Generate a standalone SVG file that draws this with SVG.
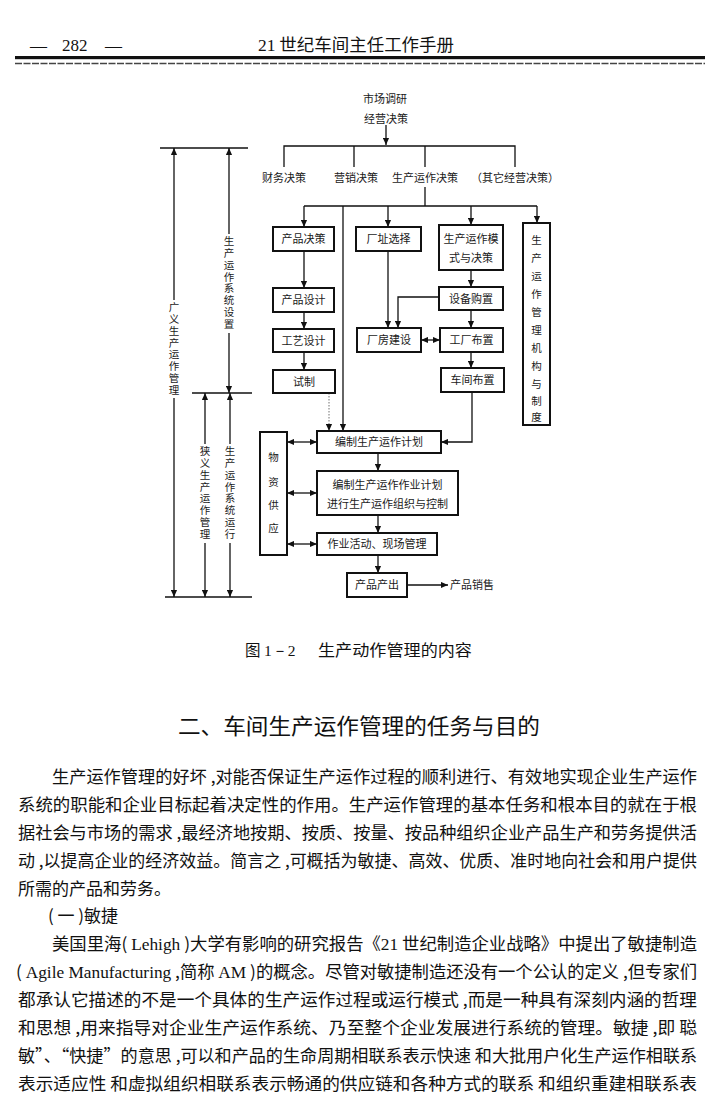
<svg xmlns="http://www.w3.org/2000/svg" width="720" height="1109" viewBox="0 0 720 1109">
<defs>
<marker id="a" viewBox="0 0 8 8" refX="8" refY="4" markerWidth="7" markerHeight="7" markerUnits="userSpaceOnUse" orient="auto-start-reverse"><path d="M0,0.5 L8,4 L0,7.5z" fill="#111"/></marker>
<style>
.bx{fill:#fff;stroke:#111;stroke-width:2}
.ln{fill:none;stroke:#111;stroke-width:1.3}
.dt{fill:none;stroke:#888;stroke-width:1.2;stroke-dasharray:1.5 1.5}
.t{font-family:"Noto Sans CJK SC",sans-serif;font-size:11px;fill:#1a1a1a;text-anchor:middle}
.v{font-family:"Noto Sans CJK SC",sans-serif;font-size:10.5px;fill:#1a1a1a;text-anchor:middle}
.vv{font-family:"Noto Sans CJK SC",sans-serif;font-size:10.5px;fill:#1a1a1a;writing-mode:vertical-rl;text-orientation:upright}
.b{font-family:"Noto Sans CJK SC",sans-serif;font-size:17px;fill:#111}
.s{font-family:"Liberation Serif",serif}
</style>
</defs>
<rect width="720" height="1109" fill="#fff"/>
<!-- header -->
<g id="header">
<text x="30" y="51" font-family="Liberation Serif, serif" font-size="17" fill="#111">—</text>
<text x="62" y="51" font-family="Liberation Serif, serif" font-size="17" fill="#111">282</text>
<text x="105" y="51" font-family="Liberation Serif, serif" font-size="17" fill="#111">—</text>
<text x="258" y="51" font-family="Noto Sans CJK SC, sans-serif" font-size="17" fill="#111" textLength="196" lengthAdjust="spacingAndGlyphs"><tspan class="s">21</tspan> 世纪车间主任工作手册</text>
<rect x="15" y="56" width="690" height="3.2" fill="#111"/>
<line x1="15" y1="63.5" x2="705" y2="63.5" stroke="#444" stroke-width="1.5" stroke-dasharray="7 1.5"/>
</g>

<!-- connectors -->
<g id="connectors">
<line class="ln" x1="386" y1="125" x2="386" y2="145" marker-end="url(#a)"/>
<path class="ln" d="M284,167 V146 H515 V167 M354,146 V167 M425,146 V167"/>
<path class="ln" d="M425,187 V206 M304,206 H537"/>
<line class="ln" x1="304" y1="206" x2="304" y2="227" marker-end="url(#a)"/>
<line class="ln" x1="388" y1="206" x2="388" y2="227" marker-end="url(#a)"/>
<line class="ln" x1="471" y1="206" x2="471" y2="225" marker-end="url(#a)"/>
<line class="ln" x1="537" y1="206" x2="537" y2="223" marker-end="url(#a)"/>
<line class="ln" x1="343" y1="206" x2="343" y2="431" marker-end="url(#a)"/>
<line class="ln" x1="304" y1="251" x2="304" y2="288" marker-end="url(#a)"/>
<line class="ln" x1="304" y1="312" x2="304" y2="329" marker-end="url(#a)"/>
<line class="ln" x1="304" y1="352" x2="304" y2="370" marker-end="url(#a)"/>
<line class="ln" x1="388" y1="251" x2="388" y2="328" marker-end="url(#a)"/>
<path class="ln" d="M439,297 H398 V328" marker-end="url(#a)"/>
<line class="ln" x1="471" y1="270" x2="471" y2="287" marker-end="url(#a)"/>
<line class="ln" x1="471" y1="310" x2="471" y2="328" marker-end="url(#a)"/>
<line class="ln" x1="471" y1="352" x2="471" y2="368" marker-end="url(#a)"/>
<line class="ln" x1="421" y1="340" x2="440" y2="340" marker-start="url(#a)" marker-end="url(#a)"/>
<line class="dt" x1="329" y1="393" x2="329" y2="431" marker-end="url(#a)"/>
<path class="ln" d="M472,392 V442 H441" marker-end="url(#a)"/>
<line class="ln" x1="378" y1="453" x2="378" y2="471" marker-end="url(#a)"/>
<line class="ln" x1="378" y1="515" x2="378" y2="533" marker-end="url(#a)"/>
<line class="ln" x1="378" y1="555" x2="378" y2="573" marker-end="url(#a)"/>
<line class="ln" x1="407" y1="585" x2="448" y2="585" marker-end="url(#a)"/>
<line class="ln" x1="287" y1="442" x2="317" y2="442" marker-start="url(#a)" marker-end="url(#a)"/>
<line class="ln" x1="287" y1="493" x2="317" y2="493" marker-start="url(#a)" marker-end="url(#a)"/>
<line class="ln" x1="287" y1="544" x2="317" y2="544" marker-start="url(#a)" marker-end="url(#a)"/>
<!-- left scope brackets -->
<line class="ln" x1="160" y1="148" x2="248" y2="148"/>
<line class="ln" x1="192" y1="393" x2="252" y2="393"/>
<line class="ln" x1="165" y1="597" x2="252" y2="597"/>
<line class="ln" x1="174" y1="300" x2="174" y2="148" marker-end="url(#a)"/>
<line class="ln" x1="174" y1="398" x2="174" y2="597" marker-end="url(#a)"/>
<line class="ln" x1="229" y1="234" x2="229" y2="148" marker-end="url(#a)"/>
<line class="ln" x1="229" y1="333" x2="229" y2="393" marker-end="url(#a)"/>
<line class="ln" x1="205" y1="444" x2="205" y2="393" marker-end="url(#a)"/>
<line class="ln" x1="205" y1="543" x2="205" y2="597" marker-end="url(#a)"/>
<line class="ln" x1="230" y1="444" x2="230" y2="393" marker-end="url(#a)"/>
<line class="ln" x1="230" y1="543" x2="230" y2="597" marker-end="url(#a)"/>
</g>

<!-- nodes -->
<g id="n-market"><text class="t" x="385" y="103" font-size="11.5">市场调研</text></g>
<g id="n-decision"><text class="t" x="386" y="123" font-size="11.5">经营决策</text></g>
<g id="n-finance"><text class="t" x="284" y="182">财务决策</text></g>
<g id="n-marketing"><text class="t" x="356" y="182">营销决策</text></g>
<g id="n-prod-decision"><text class="t" x="425" y="182">生产运作决策</text></g>
<g id="n-other"><text class="t" x="515" y="182">（其它经营决策）</text></g>

<g id="n-product"><rect class="bx" x="273" y="227" width="61" height="24"/><text class="t" x="303.5" y="243">产品决策</text></g>
<g id="n-site"><rect class="bx" x="356" y="227" width="65" height="24"/><text class="t" x="388.5" y="243">厂址选择</text></g>
<g id="n-mode"><rect class="bx" x="439" y="225" width="64" height="45"/><text class="t" x="471" y="243">生产运作模</text><text class="t" x="471" y="262">式与决策</text></g>
<g id="n-org"><rect class="bx" x="523" y="223" width="27" height="202"/>
<text class="v" font-size="11"><tspan x="536.5" y="244">生</tspan><tspan x="536.5" y="262">产</tspan><tspan x="536.5" y="280">运</tspan><tspan x="536.5" y="298">作</tspan><tspan x="536.5" y="316">管</tspan><tspan x="536.5" y="334">理</tspan><tspan x="536.5" y="352">机</tspan><tspan x="536.5" y="370">构</tspan><tspan x="536.5" y="388">与</tspan><tspan x="536.5" y="405">制</tspan><tspan x="536.5" y="421">度</tspan></text></g>
<g id="n-design"><rect class="bx" x="273" y="288" width="61" height="24"/><text class="t" x="303.5" y="304">产品设计</text></g>
<g id="n-process"><rect class="bx" x="273" y="329" width="61" height="23"/><text class="t" x="303.5" y="344.5">工艺设计</text></g>
<g id="n-trial"><rect class="bx" x="273" y="370" width="62" height="23"/><text class="t" x="304" y="385.5">试制</text></g>
<g id="n-equip"><rect class="bx" x="439" y="287" width="64" height="23"/><text class="t" x="471" y="302.5">设备购置</text></g>
<g id="n-building"><rect class="bx" x="357" y="328" width="64" height="24"/><text class="t" x="389" y="344">厂房建设</text></g>
<g id="n-layout"><rect class="bx" x="440" y="328" width="63" height="24"/><text class="t" x="471.5" y="344">工厂布置</text></g>
<g id="n-shop"><rect class="bx" x="441" y="368" width="63" height="24"/><text class="t" x="472.5" y="384">车间布置</text></g>
<g id="n-plan"><rect class="bx" x="317" y="431" width="124" height="22"/><text class="t" x="379" y="446">编制生产运作计划</text></g>
<g id="n-schedule"><rect class="bx" x="317" y="471" width="141" height="44"/><text class="t" x="387.5" y="489">编制生产运作作业计划</text><text class="t" x="387.5" y="508">进行生产运作组织与控制</text></g>
<g id="n-site-mgmt"><rect class="bx" x="317" y="533" width="120" height="22"/><text class="t" x="377" y="548">作业活动、现场管理</text></g>
<g id="n-output"><rect class="bx" x="347" y="573" width="60" height="24"/><text class="t" x="377" y="589">产品产出</text></g>
<g id="n-sales"><text class="t" x="472" y="589">产品销售</text></g>
<g id="n-supply"><rect class="bx" x="260" y="432" width="27" height="123"/>
<text class="v" font-size="11.5"><tspan x="273.5" y="461">物</tspan><tspan x="273.5" y="486">资</tspan><tspan x="273.5" y="509">供</tspan><tspan x="273.5" y="532">应</tspan></text></g>

<g id="scope-broad"><text class="vv" x="174" y="302" textLength="93" lengthAdjust="spacing">广义生产运作管理</text></g>
<g id="scope-setup"><text class="vv" x="229" y="236" textLength="93" lengthAdjust="spacing">生产运作系统设置</text></g>
<g id="scope-narrow"><text class="vv" x="205" y="446" textLength="93" lengthAdjust="spacing">狭义生产运作管理</text></g>
<g id="scope-run"><text class="vv" x="230" y="446" textLength="93" lengthAdjust="spacing">生产运作系统运行</text></g>

<!-- caption and body -->
<g id="caption"><text x="245" y="656" font-family="Noto Sans CJK SC, sans-serif" font-size="15.5" fill="#111">图 <tspan class="s">1－2</tspan></text><text x="318" y="656" font-family="Noto Sans CJK SC, sans-serif" font-size="15.5" fill="#111" textLength="154" lengthAdjust="spacingAndGlyphs">生产动作管理的内容</text></g>
<g id="heading"><text x="178" y="734" font-family="Noto Sans CJK SC, sans-serif" font-size="22" fill="#111" textLength="362" lengthAdjust="spacingAndGlyphs">二、车间生产运作管理的任务与目的</text></g>
<g id="body">
<text class="b" x="52" y="783" textLength="645" lengthAdjust="spacingAndGlyphs">生产运作管理的好坏 ,对能否保证生产运作过程的顺利进行、有效地实现企业生产运作</text>
<text class="b" x="18" y="811" textLength="679" lengthAdjust="spacingAndGlyphs">系统的职能和企业目标起着决定性的作用。生产运作管理的基本任务和根本目的就在于根</text>
<text class="b" x="18" y="839" textLength="679" lengthAdjust="spacingAndGlyphs">据社会与市场的需求 ,最经济地按期、按质、按量、按品种组织企业产品生产和劳务提供活</text>
<text class="b" x="18" y="867" textLength="679" lengthAdjust="spacingAndGlyphs">动 ,以提高企业的经济效益。简言之 ,可概括为敏捷、高效、优质、准时地向社会和用户提供</text>
<text class="b" x="18" y="895">所需的产品和劳务。</text>
<text class="b" x="48" y="922">( 一 )敏捷</text>
<text class="b" x="52" y="950" textLength="645" lengthAdjust="spacingAndGlyphs">美国里海( <tspan class="s">Lehigh</tspan> )大学有影响的研究报告《<tspan class="s">21</tspan> 世纪制造企业战略》中提出了敏捷制造</text>
<text class="b" x="16" y="978" textLength="681" lengthAdjust="spacingAndGlyphs">( <tspan class="s">Agile Manufacturing</tspan> ,简称 <tspan class="s">AM</tspan> )的概念。尽管对敏捷制造还没有一个公认的定义 ,但专家们</text>
<text class="b" x="18" y="1006" textLength="679" lengthAdjust="spacingAndGlyphs">都承认它描述的不是一个具体的生产运作过程或运行模式 ,而是一种具有深刻内涵的哲理</text>
<text class="b" x="18" y="1034" textLength="679" lengthAdjust="spacingAndGlyphs">和思想 ,用来指导对企业生产运作系统、乃至整个企业发展进行系统的管理。敏捷 ,即 聪</text>
<text class="b" x="18" y="1062" textLength="679" lengthAdjust="spacingAndGlyphs">敏”、“快捷”的意思 ,可以和产品的生命周期相联系表示快速 和大批用户化生产运作相联系</text>
<text class="b" x="18" y="1090" textLength="679" lengthAdjust="spacingAndGlyphs">表示适应性 和虚拟组织相联系表示畅通的供应链和各种方式的联系 和组织重建相联系表</text>
</g>
</svg>
